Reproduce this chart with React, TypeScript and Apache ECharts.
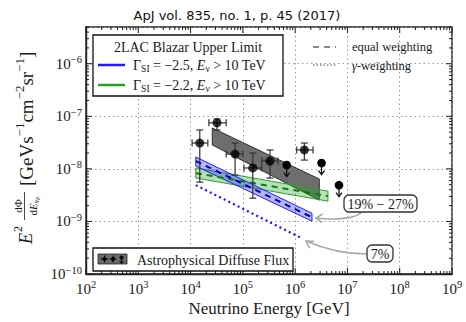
import React, { useEffect, useRef } from "react";
import * as echarts from "echarts";

// ---- axis ranges / ticks ----
const xMin = 1e2;
const xMax = 1e9;
const yMin = 1e-10;
const yMax = 5e-6;
const xDecades = [2, 3, 4, 5, 6, 7, 8];
const yDecades = [-10, -9, -8, -7, -6];

// ---- astrophysical diffuse flux data points ----
const pointE = [1.5e4, 3.2e4, 7.1e4, 1.55e5, 3.3e5, 1.5e6];
const pointELow = [1.07e4, 2.24e4, 4.8e4, 1.05e5, 2.3e5, 1.07e6];
const pointEHigh = [2.14e4, 4.8e4, 1.0e5, 2.3e5, 4.7e5, 2.2e6];
const pointF = [3.1e-8, 7.5e-8, 1.91e-8, 1.04e-8, 1.41e-8, 2.29e-8];
const pointFLow = [5.6e-9, 5.5e-8, 7.6e-9, 2.77e-9, 6.7e-9, 1.47e-8];
const pointFHigh = [5.5e-8, 8.9e-8, 3.1e-8, 2.0e-8, 2.29e-8, 3.1e-8];

// upper limits
const ulE = [6.9e5, 3.2e6, 6.9e6];
const ulF = [1.18e-8, 1.29e-8, 4.9e-9];

// astrophysical best-fit band
const astroE = [2.6e4, 2.9e6];
const astroHigh = [6.0e-8, 6.4e-9];
const astroLow = [2.85e-8, 2.54e-9];

// 2LAC blazar upper limit, Gamma = -2.5
const g25E = [1.26e4, 2.1e6];
const g25Central = [1.41e-8, 1.2e-9];
const g25High = [1.68e-8, 1.43e-9];
const g25Low = [1.13e-8, 1.01e-9];
// gamma-weighting, Gamma = -2.5
const g25GammaE = [1.26e4, 1.23e6];
const g25Gamma = [4.9e-9, 4.99e-10];

// 2LAC blazar upper limit, Gamma = -2.2
const g22E = [1.26e4, 4.24e6];
const g22Central = [8.3e-9, 3.03e-9];
const g22High = [1.04e-8, 3.77e-9];
const g22Low = [6.7e-9, 2.43e-9];

const serif = "Liberation Serif, Times New Roman, serif";
const ink = "#1a1a1a";

function bandSeries(E: number[], hi: number[], lo: number[], fill: string, stroke: string, lw: number, z: number) {
  return {
    type: "custom",
    silent: true,
    z,
    data: [[E[0], hi[0]]],
    renderItem: (_p: any, api: any) => {
      const pts = [
        api.coord([E[0], hi[0]]),
        api.coord([E[1], hi[1]]),
        api.coord([E[1], lo[1]]),
        api.coord([E[0], lo[0]]),
      ];
      return {
        type: "polygon",
        shape: { points: pts },
        style: { fill, stroke, lineWidth: lw },
      };
    },
  };
}

function lineSeries(E: number[], F: number[], color: string, dash: any, width: number, z: number) {
  return {
    type: "line",
    silent: true,
    z,
    symbol: "none",
    data: E.map((e, i) => [e, F[i]]),
    lineStyle: { color, type: dash, width },
  };
}

const tickLabelRich = {
  b: { fontSize: 15, fontFamily: serif, color: ink, lineHeight: 19 },
  s: { fontSize: 10.5, fontFamily: serif, color: ink, lineHeight: 10, verticalAlign: "top" },
};

function decadeLabel(v: number) {
  const l = Math.log10(v);
  const e = Math.round(l);
  if (Math.abs(l - e) > 1e-6) return "";
  const s = e < 0 ? "\u2212" + Math.abs(e) : String(e);
  return `{b|10}{s|${s}}`;
}

function buildOption() {
  const errorData = pointE.map((e, i) => [e, pointF[i], pointELow[i], pointEHigh[i], pointFLow[i], pointFHigh[i]]);
  const ulData = ulE.map((e, i) => [e, ulF[i]]);

  const ticksSeries = {
    type: "custom",
    silent: true,
    z: 20,
    data: [[xMin, yMin]],
    renderItem: (_p: any, api: any) => {
      const children: any[] = [];
      const bl = api.coord([xMin, yMin]);
      const tr = api.coord([xMax, yMax]);
      const st = { stroke: ink, lineWidth: 1 };
      for (const d of xDecades.concat([9])) {
        for (let m = 1; m <= 9; m++) {
          const v = m * Math.pow(10, d);
          if (v > xMax * 1.0001) break;
          const px = api.coord([v, yMin])[0];
          const len = m === 1 ? 6 : 3;
          children.push({ type: "line", shape: { x1: px, y1: bl[1], x2: px, y2: bl[1] - len }, style: st });
          children.push({ type: "line", shape: { x1: px, y1: tr[1], x2: px, y2: tr[1] + len }, style: st });
        }
      }
      for (const d of yDecades) {
        for (let m = 1; m <= 9; m++) {
          const v = m * Math.pow(10, d);
          if (v > yMax * 1.0001) break;
          const py = api.coord([xMin, v])[1];
          const len = m === 1 ? 6 : 3;
          children.push({ type: "line", shape: { x1: bl[0], y1: py, x2: bl[0] + len, y2: py }, style: st });
          children.push({ type: "line", shape: { x1: tr[0], y1: py, x2: tr[0] - len, y2: py }, style: st });
        }
      }
      return { type: "group", children };
    },
  };

  const errorSeries = {
    type: "custom",
    silent: true,
    z: 10,
    data: errorData,
    encode: { x: 0, y: 1 },
    renderItem: (_p: any, api: any) => {
      const c = api.coord([api.value(0), api.value(1)]);
      const xl = api.coord([api.value(2), api.value(1)])[0];
      const xh = api.coord([api.value(3), api.value(1)])[0];
      const yl = api.coord([api.value(0), api.value(4)])[1];
      const yh = api.coord([api.value(0), api.value(5)])[1];
      const st = { stroke: "#333", lineWidth: 1.2 };
      const cap = 3.5;
      return {
        type: "group",
        children: [
          { type: "line", shape: { x1: xl, y1: c[1], x2: xh, y2: c[1] }, style: st },
          { type: "line", shape: { x1: c[0], y1: yl, x2: c[0], y2: yh }, style: st },
          { type: "line", shape: { x1: xl, y1: c[1] - cap, x2: xl, y2: c[1] + cap }, style: st },
          { type: "line", shape: { x1: xh, y1: c[1] - cap, x2: xh, y2: c[1] + cap }, style: st },
          { type: "line", shape: { x1: c[0] - cap, y1: yl, x2: c[0] + cap, y2: yl }, style: st },
          { type: "line", shape: { x1: c[0] - cap, y1: yh, x2: c[0] + cap, y2: yh }, style: st },
        ],
      };
    },
  };

  const ulSeries = {
    type: "custom",
    silent: true,
    z: 11,
    data: ulData,
    encode: { x: 0, y: 1 },
    renderItem: (_p: any, api: any) => {
      const c = api.coord([api.value(0), api.value(1)]);
      const st = { stroke: "#111", lineWidth: 1.3 };
      return {
        type: "group",
        children: [
          { type: "line", shape: { x1: c[0], y1: c[1], x2: c[0], y2: c[1] + 11 }, style: st },
          { type: "polyline", shape: { points: [[c[0] - 3, c[1] + 7.5], [c[0], c[1] + 11.5], [c[0] + 3, c[1] + 7.5]] }, style: { ...st, fill: "none" } },
          { type: "circle", shape: { cx: c[0], cy: c[1], r: 4.3 }, style: { fill: "#000" } },
        ],
      };
    },
  };

  const arrowStyle = { stroke: "#a8a8a8", lineWidth: 1.6, fill: "none" };

  const yTitleChildren: any[] = [
    { type: "text", x: 0, y: 0, style: { text: "E", fontSize: 18, fontStyle: "italic", fontFamily: serif, fill: ink, verticalAlign: "middle" } },
    { type: "text", x: 12, y: -8, style: { text: "2", fontSize: 12, fontFamily: serif, fill: ink, verticalAlign: "middle" } },
    { type: "text", x: 38, y: -8, style: { text: "d\u03a6", fontSize: 11, fontFamily: serif, fill: ink, align: "center", verticalAlign: "middle" } },
    { type: "line", shape: { x1: 24, y1: -1.5, x2: 52, y2: -1.5 }, style: { stroke: ink, lineWidth: 0.8 } },
    {
      type: "text", x: 38, y: 7,
      style: {
        text: "{r|d}{i|E}{u|\u03bd}{m|\u03bc}",
        align: "center", verticalAlign: "middle", fill: ink,
        rich: {
          r: { fontSize: 11, fontFamily: serif, fill: ink, lineHeight: 14 },
          i: { fontSize: 11, fontFamily: serif, fontStyle: "italic", fill: ink, lineHeight: 14 },
          u: { fontSize: 8, fontFamily: serif, fontStyle: "italic", fill: ink, lineHeight: 10, verticalAlign: "bottom" },
          m: { fontSize: 6, fontFamily: serif, fontStyle: "italic", fill: ink, lineHeight: 6, verticalAlign: "bottom" },
        },
      },
    },
    {
      type: "text", x: 58, y: 0,
      style: {
        text: "{b|[GeVs}{s|\u22121}{b|cm}{s|\u22122}{b|sr}{s|\u22121}{b|]}",
        verticalAlign: "middle", fill: ink,
        rich: {
          b: { fontSize: 19, fontFamily: serif, fill: ink, lineHeight: 26 },
          s: { fontSize: 13, fontFamily: serif, fill: ink, lineHeight: 12, verticalAlign: "top" },
        },
      },
    },
  ];

  const graphic: any[] = [
    { type: "text", x: 237, y: 15, z: 100, style: { text: "ApJ vol. 835, no. 1, p. 45 (2017)", fontSize: 13, fontFamily: "DejaVu Sans, sans-serif", fill: "#111", align: "center", verticalAlign: "middle" } },
    // legend box 1
    { type: "rect", z: 100, shape: { x: 93, y: 35, width: 190, height: 61 }, style: { fill: "#fff", stroke: "#111", lineWidth: 1.3 } },
    { type: "text", z: 101, x: 188, y: 47, style: { text: "2LAC Blazar Upper Limit", fontSize: 14, fontFamily: serif, fill: ink, align: "center", verticalAlign: "middle" } },
    { type: "line", z: 101, shape: { x1: 98, y1: 65, x2: 125, y2: 65 }, style: { stroke: "#1c1cff", lineWidth: 2.5 } },
    { type: "line", z: 101, shape: { x1: 98, y1: 85, x2: 125, y2: 85 }, style: { stroke: "#22a022", lineWidth: 2.5 } },
    {
      type: "text", z: 101, x: 133, y: 65,
      style: {
        text: "{t|\u0393}{u|SI}{t| = \u22122.5, }{i|E}{u|\u03bd}{t| > 10 TeV}",
        verticalAlign: "middle", fill: ink,
        rich: {
          t: { fontSize: 14, fontFamily: serif, fill: ink, lineHeight: 18 },
          i: { fontSize: 14, fontFamily: serif, fontStyle: "italic", fill: ink, lineHeight: 18 },
          u: { fontSize: 9.5, fontFamily: serif, fill: ink, lineHeight: 10, verticalAlign: "bottom" },
        },
      },
    },
    {
      type: "text", z: 101, x: 133, y: 85,
      style: {
        text: "{t|\u0393}{u|SI}{t| = \u22122.2, }{i|E}{u|\u03bd}{t| > 10 TeV}",
        verticalAlign: "middle", fill: ink,
        rich: {
          t: { fontSize: 14, fontFamily: serif, fill: ink, lineHeight: 18 },
          i: { fontSize: 14, fontFamily: serif, fontStyle: "italic", fill: ink, lineHeight: 18 },
          u: { fontSize: 9.5, fontFamily: serif, fill: ink, lineHeight: 10, verticalAlign: "bottom" },
        },
      },
    },
    // weighting legend
    { type: "line", z: 101, shape: { x1: 313, y1: 47, x2: 336, y2: 47 }, style: { stroke: "#888", lineWidth: 2.2, lineDash: [6, 5] } },
    { type: "text", z: 101, x: 352, y: 47, style: { text: "equal weighting", fontSize: 12.5, fontFamily: serif, fill: ink, verticalAlign: "middle" } },
    { type: "line", z: 101, shape: { x1: 313, y1: 65, x2: 336, y2: 65 }, style: { stroke: "#888", lineWidth: 1.6, lineDash: [1.5, 2] } },
    {
      type: "text", z: 101, x: 352, y: 66,
      style: {
        text: "{i|\u03b3}{t|-weighting}", verticalAlign: "middle", fill: ink,
        rich: {
          i: { fontSize: 12.5, fontFamily: serif, fontStyle: "italic", fill: ink },
          t: { fontSize: 12.5, fontFamily: serif, fill: ink },
        },
      },
    },
    // bottom legend
    { type: "rect", z: 100, shape: { x: 93, y: 248, width: 200, height: 23 }, style: { fill: "#fff", stroke: "#111", lineWidth: 1.3 } },
    { type: "rect", z: 101, shape: { x: 98, y: 254, width: 29, height: 10 }, style: { fill: "#6a6a6a", stroke: "#222", lineWidth: 0.8 } },
    { type: "line", z: 102, shape: { x1: 101, y1: 259, x2: 108, y2: 259 }, style: { stroke: "#000", lineWidth: 1 } },
    { type: "line", z: 102, shape: { x1: 104.5, y1: 255.5, x2: 104.5, y2: 262.5 }, style: { stroke: "#000", lineWidth: 1 } },
    { type: "circle", z: 102, shape: { cx: 104.5, cy: 259, r: 2 }, style: { fill: "#000" } },
    { type: "line", z: 102, shape: { x1: 109.5, y1: 259, x2: 116.5, y2: 259 }, style: { stroke: "#000", lineWidth: 1 } },
    { type: "line", z: 102, shape: { x1: 113, y1: 255.5, x2: 113, y2: 262.5 }, style: { stroke: "#000", lineWidth: 1 } },
    { type: "circle", z: 102, shape: { cx: 113, cy: 259, r: 2 }, style: { fill: "#000" } },
    { type: "line", z: 102, shape: { x1: 121.5, y1: 256, x2: 121.5, y2: 263 }, style: { stroke: "#000", lineWidth: 1 } },
    { type: "circle", z: 102, shape: { cx: 121.5, cy: 257.5, r: 2 }, style: { fill: "#000" } },
    { type: "polyline", z: 102, shape: { points: [[119.5, 261], [121.5, 263.5], [123.5, 261]] }, style: { stroke: "#000", lineWidth: 1, fill: "none" } },
    { type: "text", z: 101, x: 137, y: 260, style: { text: "Astrophysical Diffuse Flux", fontSize: 14, fontFamily: serif, fill: ink, verticalAlign: "middle" } },
    // annotations
    { type: "bezierCurve", z: 99, shape: { x1: 362, y1: 212, cpx1: 355, cpy1: 219, cpx2: 335, cpy2: 220, x2: 316, y2: 218 }, style: arrowStyle },
    { type: "polyline", z: 99, shape: { points: [[322.5, 214], [316, 218], [322, 222.5]] }, style: arrowStyle },
    { type: "rect", z: 100, shape: { x: 344, y: 195, width: 73, height: 17, r: 5 }, style: { fill: "#fff", stroke: "#333", lineWidth: 1.3 } },
    { type: "text", z: 101, x: 380.5, y: 204, style: { text: "19% \u2212 27%", fontSize: 14, fontFamily: serif, fill: ink, align: "center", verticalAlign: "middle" } },
    { type: "bezierCurve", z: 99, shape: { x1: 367, y1: 254, cpx1: 345, cpy1: 254, cpx2: 322, cpy2: 248, x2: 306, y2: 241 }, style: arrowStyle },
    { type: "polyline", z: 99, shape: { points: [[314.1, 241.4], [306, 241], [309.7, 248.2]] }, style: arrowStyle },
    { type: "rect", z: 100, shape: { x: 367, y: 245, width: 26, height: 17, r: 5 }, style: { fill: "#fff", stroke: "#333", lineWidth: 1.3 } },
    { type: "text", z: 101, x: 380, y: 254, style: { text: "7%", fontSize: 14, fontFamily: serif, fill: ink, align: "center", verticalAlign: "middle" } },
    // axis titles
    { type: "group", z: 100, x: 26, y: 244, rotation: Math.PI / 2, children: yTitleChildren },
    { type: "text", z: 100, x: 269, y: 308, style: { text: "Neutrino Energy [GeV]", fontSize: 17, fontFamily: serif, fill: ink, align: "center", verticalAlign: "middle" } },
  ];

  return {
    animation: false,
    backgroundColor: "#fff",
    grid: { left: 86, right: 14, top: 27, bottom: 48, show: true, borderColor: "#222", borderWidth: 1.4, backgroundColor: "transparent" },
    xAxis: {
      type: "log",
      logBase: 10,
      min: xMin,
      max: xMax,
      axisLine: { show: true, lineStyle: { color: "#222", width: 1.4 } },
      axisTick: { show: false },
      splitLine: { show: true, lineStyle: { color: "#9a9a9a", type: [1.5, 3], width: 1 } },
      axisLabel: { formatter: decadeLabel, rich: tickLabelRich, fontFamily: serif, margin: 5, color: ink, showMaxLabel: true, showMinLabel: true },
    },
    yAxis: {
      type: "log",
      logBase: 10,
      min: yMin,
      max: yMax,
      axisLine: { show: true, lineStyle: { color: "#222", width: 1.4 } },
      axisTick: { show: false },
      splitLine: { show: true, lineStyle: { color: "#9a9a9a", type: [1.5, 3], width: 1 } },
      axisLabel: { formatter: decadeLabel, rich: tickLabelRich, fontFamily: serif, margin: 4, color: ink },
    },
    series: [
      bandSeries(astroE, astroHigh, astroLow, "#6e6e6e", "#222", 0.9, 3),
      bandSeries(g22E, g22High, g22Low, "rgba(40,170,40,0.35)", "#2ca02c", 1, 4),
      bandSeries(g25E, g25High, g25Low, "rgba(40,40,255,0.35)", "#2020ff", 1, 5),
      lineSeries(g22E, g22Central, "#0d7a0d", [6, 5], 2, 6),
      lineSeries(g25E, g25Central, "#0000b0", [6, 5], 2, 6),
      lineSeries(g25GammaE, g25Gamma, "#1414ff", [2, 3.2], 2.2, 6),
      errorSeries,
      {
        type: "scatter",
        silent: true,
        z: 12,
        symbol: "circle",
        symbolSize: 9,
        itemStyle: { color: "#000" },
        data: pointE.map((e, i) => [e, pointF[i]]),
      },
      ulSeries,
      ticksSeries,
    ],
    graphic,
  };
}

export default function App() {
  const ref = useRef<HTMLDivElement>(null);
  useEffect(() => {
    if (!ref.current) return;
    const chart = echarts.init(ref.current, null, { renderer: "svg" });
    chart.setOption(buildOption() as any);
    return () => chart.dispose();
  }, []);
  return <div ref={ref} style={{ position: "absolute", left: 0, top: 0, width: 466, height: 322 }} />;
}
